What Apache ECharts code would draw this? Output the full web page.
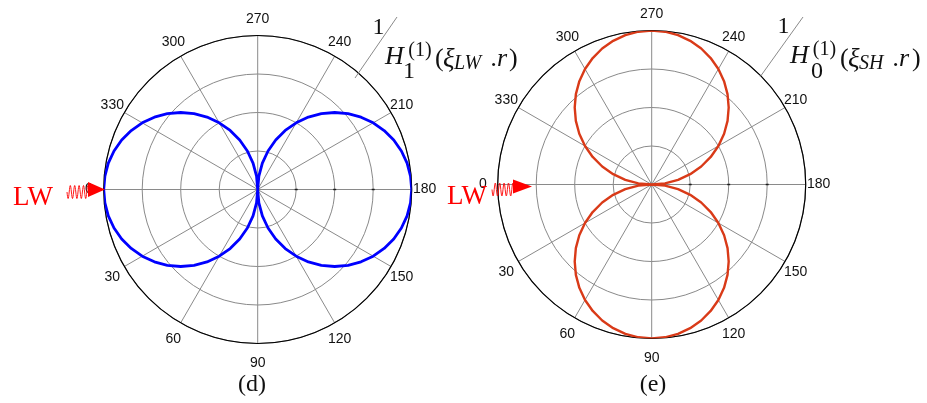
<!DOCTYPE html>
<html>
<head>
<meta charset="utf-8">
<script src="https://cdn.jsdelivr.net/npm/echarts@6/dist/echarts.min.js"></script>
<style>html,body{margin:0;padding:0;background:#fff}#c{width:927px;height:403px}</style>
</head>
<body>
<div id="c"></div>
<script>
// Angles (degrees) at which the patterns were read
const angles = [0,5,10,15,20,25,30,35,40,45,50,55,60,65,70,75,80,85,90,
  95,100,105,110,115,120,125,130,135,140,145,150,155,160,165,170,175,180,
  185,190,195,200,205,210,215,220,225,230,235,240,245,250,255,260,265,270,
  275,280,285,290,295,300,305,310,315,320,325,330,335,340,345,350,355,360];
// (d) 1/H1(1) pattern, normalized radius
const lwValues = [1.000,0.996,0.985,0.966,0.940,0.906,0.866,0.819,0.766,0.707,0.643,0.574,0.500,0.423,0.342,0.259,0.174,0.087,0.000,
  0.087,0.174,0.259,0.342,0.423,0.500,0.574,0.643,0.707,0.766,0.819,0.866,0.906,0.940,0.966,0.985,0.996,1.000,
  0.996,0.985,0.966,0.940,0.906,0.866,0.819,0.766,0.707,0.643,0.574,0.500,0.423,0.342,0.259,0.174,0.087,0.000,
  0.087,0.174,0.259,0.342,0.423,0.500,0.574,0.643,0.707,0.766,0.819,0.866,0.906,0.940,0.966,0.985,0.996,1.000];
// (e) 1/H0(1) pattern, normalized radius
const shValues = [0.000,0.087,0.174,0.259,0.342,0.423,0.500,0.574,0.643,0.707,0.766,0.819,0.866,0.906,0.940,0.966,0.985,0.996,1.000,
  0.996,0.985,0.966,0.940,0.906,0.866,0.819,0.766,0.707,0.643,0.574,0.500,0.423,0.342,0.259,0.174,0.087,0.000,
  0.087,0.174,0.259,0.342,0.423,0.500,0.574,0.643,0.707,0.766,0.819,0.866,0.906,0.940,0.966,0.985,0.996,1.000,
  0.996,0.985,0.966,0.940,0.906,0.866,0.819,0.766,0.707,0.643,0.574,0.500,0.423,0.342,0.259,0.174,0.087,0.000];
// Angle tick labels
const angleTickLabels = ['0','30','60','90','120','150','180','210','240','270','300','330'];
// Radial ring values (ticks on the 180 spoke)
const ringTicks = [0.25, 0.5, 0.75];

const chart = echarts.init(document.getElementById('c'), null, {renderer:'canvas'});
const serif = '"Liberation Serif","Times New Roman",serif';
const sans = '"Liberation Sans",Arial,sans-serif';

// per-label padding [top,right,bottom,left] so label centres sit on a ring like the reference
const labelPad = {
  '0':[0,25,0,0], '30':[10.5,16.5,0,0], '60':[21,6.7,0,0], '90':[26.5,0,0,0],
  '120':[21,0,0,0.3], '150':[10.5,0,0,11], '180':[0,0,0,15.3], '210':[0,0,7.5,11],
  '240':[0,0,19.3,0.3], '270':[0,0,23,0], '300':[0,2.7,19.3,0], '330':[0,12.5,7.5,0]
};
const labelRich = {};
angleTickLabels.forEach(l => {
  labelRich['p' + l] = {padding: labelPad[l], fontSize:14, fontFamily:sans, color:'#111'};
});

function angleAxisCfg(idx){
  return {
    polarIndex: idx, type:'value', min:0, max:360, interval:30,
    startAngle:180, clockwise:false, z:3,
    axisLine:{show:true, lineStyle:{color:'#000', width:1.2}},
    axisTick:{show:false},
    axisLabel:{show:true, color:'#111', fontSize:14, fontFamily:sans, margin:-14,
      formatter: v => { const s = String(v); return angleTickLabels.indexOf(s) >= 0 ? '{p' + s + '|' + s + '}' : ''; },
      rich: labelRich},
    splitLine:{show:true, lineStyle:{color:'#8a8a8a', width:1}}
  };
}
function radiusAxisCfg(idx){
  return {
    polarIndex: idx, type:'value', min:0, max:1, interval:0.25, z:1,
    axisLine:{show:false}, axisTick:{show:false}, axisLabel:{show:false},
    splitLine:{show:true, lineStyle:{color:'#8a8a8a', width:1}}
  };
}

function wave(x0, x1, yc, amp, cycles){
  const pts = [];
  const n = 80;
  for (let i = 0; i <= n; i++) {
    const t = i / n;
    pts.push([x0 + (x1 - x0) * t, yc + amp * Math.sin(t * cycles * 2 * Math.PI)]);
  }
  return pts;
}

function txt(text, x, y, font, align, fill){
  return {type:'text', x:x, y:y, z:100, silent:true,
    style:{text:text, font:font, fill:fill || '#111', textAlign:align || 'left', textVerticalAlign:'middle'}};
}

const graphics = [
  // left annotation 1/H1(1)(xi_LW .r)
  txt('1', 378.5, 27.5, '24px ' + serif, 'center'),
  {type:'line', z:100, silent:true, shape:{x1:397, y1:17, x2:355, y2:78}, style:{stroke:'#8a8a8a', lineWidth:1}},
  txt('H', 385, 57.5, 'italic 26px ' + serif, 'left'),
  txt('(1)', 420, 51, '20px ' + serif, 'center'),
  txt('1', 409, 71.5, '24px ' + serif, 'center'),
  txt('(', 435, 59, '26px ' + serif, 'left'),
  txt('\u03BE', 443, 60, 'italic 27px ' + serif, 'left'),
  txt('LW', 454, 63.5, 'italic 20px ' + serif, 'left'),
  txt('.', 491, 59, 'italic 26px ' + serif, 'left'),
  txt('r', 497, 59, 'italic 26px ' + serif, 'left'),
  txt(')', 509, 59, '26px ' + serif, 'left'),
  // right annotation 1/H0(1)(xi_SH .r)
  txt('1', 783.5, 27, '24px ' + serif, 'center'),
  {type:'line', z:100, silent:true, shape:{x1:803, y1:17, x2:760, y2:77}, style:{stroke:'#8a8a8a', lineWidth:1}},
  txt('H', 790, 56.5, 'italic 26px ' + serif, 'left'),
  txt('(1)', 824.5, 50, '20px ' + serif, 'center'),
  txt('0', 817, 71.5, '24px ' + serif, 'center'),
  txt('(', 840, 59, '26px ' + serif, 'left'),
  txt('\u03BE', 848, 60, 'italic 27px ' + serif, 'left'),
  txt('SH', 859, 63.5, 'italic 20px ' + serif, 'left'),
  txt('.', 893, 59, 'italic 26px ' + serif, 'left'),
  txt('r', 899, 59, 'italic 26px ' + serif, 'left'),
  txt(')', 912, 59, '26px ' + serif, 'left'),
  // LW incidence markers
  txt('LW', 13, 198, '27px ' + serif, 'left', '#ff0000'),
  {type:'polyline', z:100, silent:true, shape:{points: wave(67, 89, 192, 6.5, 5)}, style:{stroke:'#ff0000', lineWidth:0.9, fill:null}},
  {type:'polygon', z:101, silent:true, shape:{points:[[88,182],[105,189.5],[88,197]]}, style:{fill:'#ff0000'}},
  txt('LW', 447, 197, '27px ' + serif, 'left', '#ff0000'),
  {type:'polyline', z:100, silent:true, shape:{points: wave(492, 514, 189.5, 6.5, 5)}, style:{stroke:'#ff0000', lineWidth:0.9, fill:null}},
  {type:'polygon', z:101, silent:true, shape:{points:[[513,179.5],[532,186.5],[513,193.5]]}, style:{fill:'#ff0000'}},
  // panel captions
  txt('(d)', 252, 385, '24px ' + serif, 'center'),
  txt('(e)', 653, 385, '24px ' + serif, 'center')
];

const option = {
  animation:false,
  backgroundColor:'#fff',
  polar:[
    {center:[257.7, 189.5], radius:154},
    {center:[651.7, 184.5], radius:154}
  ],
  angleAxis:[angleAxisCfg(0), angleAxisCfg(1)],
  radiusAxis:[radiusAxisCfg(0), radiusAxisCfg(1)],
  series:[
    {type:'line', coordinateSystem:'polar', polarIndex:0, z:5, showSymbol:false, symbol:'none',
      lineStyle:{color:'#0000ff', width:2.8},
      data: angles.map((a, i) => [lwValues[i], a])},
    {type:'line', coordinateSystem:'polar', polarIndex:1, z:5, showSymbol:false, symbol:'none',
      lineStyle:{color:'#d93a18', width:2.4},
      data: angles.map((a, i) => [shValues[i], a])},
    {type:'scatter', coordinateSystem:'polar', polarIndex:0, z:4, symbol:'rect', symbolSize:[3,1.5],
      itemStyle:{color:'#000'}, data: ringTicks.map(r => [r, 180])},
    {type:'scatter', coordinateSystem:'polar', polarIndex:1, z:4, symbol:'rect', symbolSize:[3,1.5],
      itemStyle:{color:'#000'}, data: ringTicks.map(r => [r, 180])}
  ],
  graphic: graphics
};
chart.setOption(option);
</script>
</body>
</html>
